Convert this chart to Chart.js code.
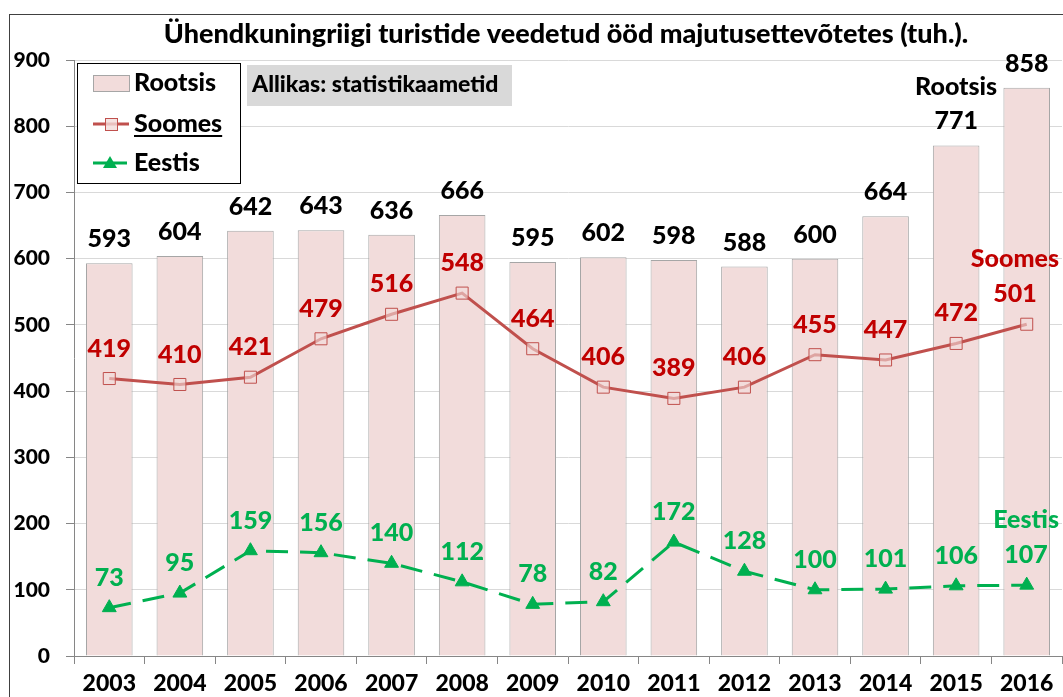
<!DOCTYPE html>
<html>
<head>
<meta charset="utf-8">
<script src="https://cdn.jsdelivr.net/npm/chart.js@4"></script>
<style>
  body { margin: 0; background: #fff; }
  canvas { display: block; }
</style>
</head>
<body>
<canvas id="chart" width="1063" height="697"></canvas>
<script>
const years = ['2003','2004','2005','2006','2007','2008','2009','2010','2011','2012','2013','2014','2015','2016'];
const rootsis = [593, 604, 642, 643, 636, 666, 595, 602, 598, 588, 600, 664, 771, 858];
const soomes = [419, 410, 421, 479, 516, 548, 464, 406, 389, 406, 455, 447, 472, 501];
const eestis = [73, 95, 159, 156, 140, 112, 78, 82, 172, 128, 100, 101, 106, 107];
const seriesNames = ['Rootsis', 'Soomes', 'Eestis'];
const titleText = 'Ühendkuningriigi turistide veedetud ööd majutusettevõtetes (tuh.).';
const sourceText = 'Allikas: statistikaametid';

const FONT = 'Lato, "Open Sans", sans-serif';
const W = '900';
const barFill = '#f2dcdb';
const barLine = '#a6a6a6';
const redLine = '#c0504d';
const redText = '#c00000';
const green = '#00b050';

const decor = {
  id: 'decor',
  beforeDraw(chart) {
    const c = chart.ctx;
    c.save();
    c.fillStyle = '#fff';
    c.fillRect(0, 0, chart.width, chart.height);
    c.strokeStyle = '#404040';
    c.lineWidth = 1;
    c.strokeRect(9.5, 14.5, chart.width + 20, chart.height + 20);
    c.restore();
  },
  afterDatasetsDraw(chart) {
    const c = chart.ctx;
    const right = chart.chartArea.right;
    c.save();
    c.font = W + ' 25px ' + FONT;
    c.textAlign = 'center';
    c.textBaseline = 'middle';
    const specs = [
      { color: '#000', off: 24 },
      { color: redText, off: 30 },
      { color: green, off: 30 }
    ];
    specs.forEach((s, di) => {
      const meta = chart.getDatasetMeta(di);
      c.fillStyle = s.color;
      meta.data.forEach((el, i) => {
        const txt = String(chart.data.datasets[di].data[i]);
        const last = i === meta.data.length - 1;
        let x = el.x;
        const y = el.y - s.off;
        if (last && di > 0) {
          // last point carries the series name above the value
          const w = Math.max(c.measureText(seriesNames[di]).width, c.measureText(txt).width);
          x = Math.min(x, right - 3 - w / 2);
          c.fillText(seriesNames[di], x, y - 35);
        }
        c.fillText(txt, x, y);
        if (di === 0 && i === meta.data.length - 2) {
          c.fillText(seriesNames[0], x, y - 34);
        }
      });
    });
    c.restore();
  },
  afterDraw(chart) {
    const c = chart.ctx;
    c.save();
    // title
    c.fillStyle = '#000';
    c.font = W + ' 27px ' + FONT;
    c.textAlign = 'center';
    c.textBaseline = 'middle';
    c.fillText(titleText, 566, 34);

    // legend box
    c.fillStyle = '#fff';
    c.fillRect(77, 63, 163, 120);
    c.strokeStyle = '#000';
    c.lineWidth = 1;
    c.strokeRect(77.5, 63.5, 163, 120);

    c.fillStyle = barFill;
    c.strokeStyle = barLine;
    c.fillRect(93, 75, 36, 16);
    c.strokeRect(93.5, 75.5, 36, 16);

    c.strokeStyle = redLine;
    c.lineWidth = 3;
    c.beginPath(); c.moveTo(93, 124); c.lineTo(129, 124); c.stroke();
    c.lineWidth = 1;
    c.fillStyle = 'rgba(242,220,219,0.8)';
    c.fillRect(105, 118, 12, 12);
    c.strokeRect(105.5, 118.5, 12, 12);

    c.strokeStyle = green;
    c.lineWidth = 3;
    c.beginPath(); c.moveTo(93, 163); c.lineTo(127, 163); c.stroke();
    c.fillStyle = green;
    c.beginPath(); c.moveTo(110, 156); c.lineTo(117, 168); c.lineTo(103, 168); c.closePath(); c.fill();

    c.fillStyle = '#000';
    c.font = W + ' 25px ' + FONT;
    c.textAlign = 'left';
    c.fillText(seriesNames[0], 134, 83);
    c.fillText(seriesNames[1], 134, 124);
    c.fillText(seriesNames[2], 134, 163);
    const uw = c.measureText(seriesNames[1]).width;
    c.fillRect(134, 135, uw, 2);

    // source box
    c.fillStyle = '#d9d9d9';
    c.fillRect(247, 65, 265, 41);
    c.fillStyle = '#000';
    c.font = W + ' 23px ' + FONT;
    c.fillText(sourceText, 252, 85);
    c.restore();
  }
};

new Chart(document.getElementById('chart'), {
  type: 'bar',
  data: {
    labels: years,
    datasets: [
      {
        label: seriesNames[0], data: rootsis, order: 3,
        backgroundColor: barFill, borderColor: barLine, borderWidth: 1,
        barPercentage: 0.66, categoryPercentage: 1
      },
      {
        label: seriesNames[1], type: 'line', data: soomes, order: 2,
        borderColor: redLine, borderWidth: 3, tension: 0,
        pointStyle: 'rect', pointRadius: 8.5, pointBackgroundColor: 'rgba(242,220,219,0.6)', pointBorderColor: redLine, pointBorderWidth: 1
      },
      {
        label: seriesNames[2], type: 'line', data: eestis, order: 1,
        borderColor: green, borderWidth: 3, borderDash: [22, 12], tension: 0,
        pointStyle: 'triangle', pointRadius: 8, pointBackgroundColor: green, pointBorderColor: green, pointBorderWidth: 1
      }
    ]
  },
  options: {
    responsive: false,
    animation: false,
    layout: { autoPadding: false, padding: { top: 60, right: 1, left: 0, bottom: 0 } },
    plugins: { legend: { display: false }, title: { display: false }, tooltip: { enabled: false } },
    scales: {
      x: {
        offset: true,
        afterFit: (s) => { s.height = 41; },
        border: { color: '#868686' },
        grid: { offset: true, drawOnChartArea: false, tickLength: 8, tickColor: '#868686' },
        ticks: { color: '#000', font: { family: FONT, size: 23, weight: W }, padding: 6, maxRotation: 0 }
      },
      y: {
        min: 0, max: 900,
        afterFit: (s) => { s.width = 74; },
        border: { color: '#868686' },
        grid: { color: '#d9d9d9', tickLength: 8, tickColor: '#868686' },
        ticks: { stepSize: 100, color: '#000', font: { family: FONT, size: 21, weight: W }, padding: 16 }
      }
    }
  },
  plugins: [decor]
});
</script>
</body>
</html>
